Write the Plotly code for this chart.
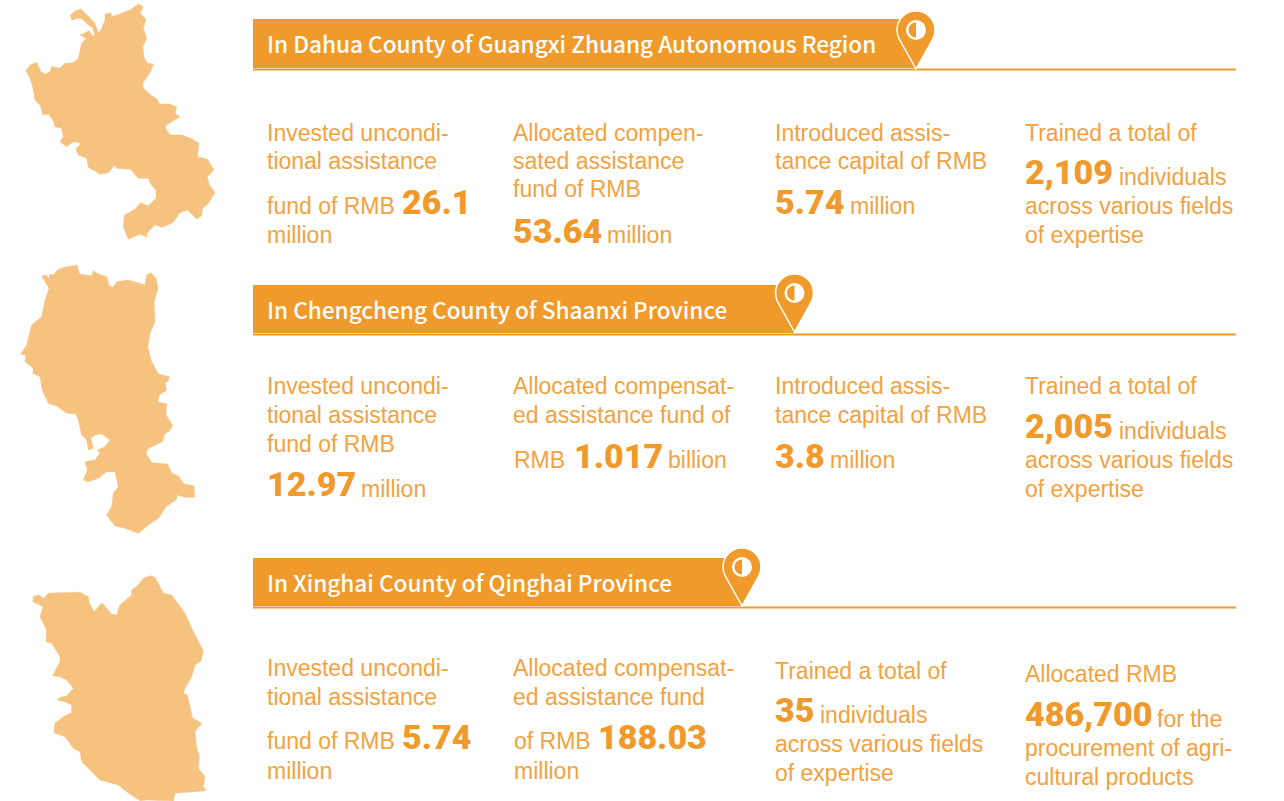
import math
import plotly.graph_objects as go

# Traced county outlines: (x, y) in zoom-crop units, offset given below
MAP_DAHUA = [(415,12),(430,20),(420,40),(438,58),(430,85),(440,115),(428,140),(432,170),(442,190),(460,192),(452,215),(428,250),(430,265),(452,285),(470,296),(478,312),(510,312),(530,322),(525,340),(540,350),(515,365),(495,378),(502,395),(512,405),(545,405),(572,415),(597,430),(592,470),(622,478),(642,510),(622,530),(628,555),(645,578),(625,610),(608,625),(604,648),(590,657),(578,645),(562,630),(540,638),(518,668),(488,682),(465,675),(440,700),(442,712),(420,702),(385,718),(370,680),(373,645),(405,628),(422,608),(445,618),(468,595),(468,570),(452,552),(445,535),(415,535),(392,508),(350,505),(345,495),(325,518),(300,522),(265,502),(260,475),(235,465),(228,448),(243,430),(220,425),(200,440),(180,425),(190,410),(185,385),(165,380),(160,362),(145,342),(128,345),(122,318),(105,300),(98,260),(90,235),(78,212),(90,195),(110,187),(122,215),(135,222),(150,215),(155,200),(180,205),(195,190),(220,188),(235,175),(245,130),(258,115),(240,105),(258,98),(268,92),(275,105),(285,108),(278,84),(262,72),(248,58),(232,55),(215,60),(212,45),(225,33),(243,27),(262,46),(278,62),(285,70),(295,100),(305,85),(315,60),(315,42),(332,38),(335,50),(365,40),(390,30)]
MAP_CHENGCHENG = [(125,48),(140,45),(145,58),(150,42),(160,45),(175,28),(200,20),(232,16),(238,42),(275,48),(280,32),(295,42),(320,50),(328,78),(340,82),(350,65),(385,60),(435,75),(440,45),(452,38),(468,55),(474,85),(462,125),(465,185),(450,220),(443,260),(455,305),(475,342),(508,350),(505,362),(495,370),(500,390),(478,405),(473,425),(500,432),(498,465),(518,495),(510,512),(495,520),(487,545),(445,565),(438,580),(455,608),(503,612),(515,640),(535,648),(552,672),(582,678),(584,712),(555,712),(532,705),(528,720),(500,738),(475,775),(445,795),(415,820),(375,805),(345,798),(320,765),(335,740),(340,700),(355,680),(345,635),(320,635),(295,655),(265,665),(250,660),(262,630),(255,605),(285,600),(300,580),(292,570),(315,560),(330,540),(305,522),(285,525),(272,535),(280,565),(265,570),(260,540),(245,525),(235,480),(228,462),(200,460),(170,438),(145,430),(140,418),(128,395),(120,350),(98,340),(100,325),(75,305),(78,285),(62,283),(80,255),(95,195),(125,170),(135,120),(147,85)]
MAP_XINGHAI = [(450,47),(465,52),(490,100),(515,105),(555,160),(580,215),(610,272),(603,303),(585,315),(575,350),(555,385),(550,400),(562,405),(570,440),(578,475),(605,490),(585,515),(590,560),(598,590),(595,625),(615,650),(610,680),(618,692),(580,695),(525,700),(520,723),(440,720),(420,722),(380,695),(355,675),(320,665),(300,660),(265,625),(245,605),(240,575),(220,565),(195,530),(162,518),(165,490),(190,470),(215,458),(215,435),(195,425),(172,420),(180,412),(200,408),(220,385),(200,360),(180,350),(158,347),(180,305),(180,290),(155,250),(138,245),(140,210),(135,200),(120,170),(130,140),(98,125),(100,110),(115,105),(132,115),(145,100),(180,98),(240,97),(265,110),(268,128),(282,155),(306,128),(335,163),(350,165),(360,135),(395,105),(395,90),(415,75),(430,55)]

TITLES = ["In Dahua County of Guangxi Zhuang Autonomous Region",
          "In Chengcheng County of Shaanxi Province",
          "In Xinghai County of Qinghai Province"]
TITLE_Y = [43, 309, 582]
BANNER_TOP = [19, 285, 558]
BANNER_BOTTOM = [68, 333, 606]
PIN_X = [916, 794.5, 742]
PIN_TIP = [69, 332, 606]

# Body lines: (x, y, text)
BODY = [
 (267,133,"Invested uncondi-"),(267,161,"tional assistance"),(267,206,"fund of RMB"),(267,235,"million"),
 (513,133,"Allocated compen-"),(513,161,"sated assistance"),(513,189,"fund of RMB"),(607,235,"million"),
 (775,133,"Introduced assis-"),(775,161,"tance capital of RMB"),(850,206,"million"),
 (1025,133,"Trained a total of"),(1119,177,"individuals"),(1025,206,"across various fields"),(1025,235,"of expertise"),
 (267,386,"Invested uncondi-"),(267,415,"tional assistance"),(267,444,"fund of RMB"),(361,489,"million"),
 (513,386,"Allocated compensat-"),(513,415,"ed assistance fund of"),(514,460,"RMB"),(668,460,"billion"),
 (775,386,"Introduced assis-"),(775,415,"tance capital of RMB"),(830,460,"million"),
 (1025,386,"Trained a total of"),(1119,431,"individuals"),(1025,460,"across various fields"),(1025,489,"of expertise"),
 (267,668,"Invested uncondi-"),(267,697,"tional assistance"),(267,741,"fund of RMB"),(267,771,"million"),
 (513,668,"Allocated compensat-"),(513,697,"ed assistance fund"),(514,741,"of RMB"),(514,771,"million"),
 (775,671,"Trained a total of"),(820,715,"individuals"),(775,744,"across various fields"),(775,773,"of expertise"),
 (1025,674,"Allocated RMB"),(1157,719,"for the"),(1025,748,"procurement of agri-"),(1025,777,"cultural products"),
]
# Highlighted figures: (x, y, text)
FIGURES = [
 (402,202,"26.1"),(513,231,"53.64"),(775,202,"5.74"),(1025,172,"2,109"),
 (267,484,"12.97"),(574,456,"1.017"),(775,456,"3.8"),(1025,426,"2,005"),
 (402,737,"5.74"),(598,737,"188.03"),(775,710,"35"),(1025,714,"486,700"),
]

ORANGE = "#F09A2C"
TEXT_ORANGE = "#F2A23F"
MAP_COLOR = "#F5C27F"

fig = go.Figure()

def add_map(points, dx, dy):
    xs = [p[0] / 3 + dx for p in points]
    ys = [p[1] / 3 + dy for p in points]
    fig.add_trace(go.Scatter(x=xs + xs[:1], y=ys + ys[:1], mode="lines", fill="toself",
                             fillcolor=MAP_COLOR, line=dict(color=MAP_COLOR, width=0.5),
                             hoverinfo="skip", showlegend=False))

add_map(MAP_DAHUA, 0, 0)
add_map(MAP_CHENGCHENG, 0, 260)
add_map(MAP_XINGHAI, 0, 560)

def pin_path(c, tip, R):
    d = 39
    cy = tip - d
    s = R / d
    co = math.sqrt(1 - s * s)
    tx, ty = R * co, R * s          # tangent point relative to centre
    k1 = 4 / 3 * math.tan(math.asin(s) / 4) * R
    k = 0.5523 * R
    return (f"M{c},{tip} L{c-tx:.2f},{cy+ty:.2f} "
            f"C{c-tx-k1*s:.2f},{cy+ty-k1*co:.2f} {c-R},{cy+k1:.2f} {c-R},{cy} "
            f"C{c-R},{cy-k:.2f} {c-k:.2f},{cy-R} {c},{cy-R} "
            f"C{c+k:.2f},{cy-R} {c+R},{cy-k:.2f} {c+R},{cy} "
            f"C{c+R},{cy+k1:.2f} {c+tx+k1*s:.2f},{cy+ty-k1*co:.2f} {c+tx:.2f},{cy+ty:.2f} Z")

shapes = []
annotations = []
R = 19
for i, title in enumerate(TITLES):
    top, bot, px, tip = BANNER_TOP[i], BANNER_BOTTOM[i], PIN_X[i], PIN_TIP[i]
    shapes.append(dict(type="path", path=f"M253,{top} L{px-15},{top} L{px},{bot} L253,{bot} Z",
                       fillcolor=ORANGE, line=dict(width=0), xref="x", yref="y"))
    shapes.append(dict(type="line", x0=253, x1=1236, y0=bot + 1.5, y1=bot + 1.5,
                       line=dict(color=ORANGE, width=2), xref="x", yref="y"))
    cy = tip - 39
    c = px
    shapes.append(dict(type="path", path=pin_path(c, tip, R), fillcolor=ORANGE,
                       line=dict(color="#FFFFFF", width=1.5), xref="x", yref="y"))
    r = 10
    shapes.append(dict(type="circle", x0=c - r, x1=c + r, y0=cy - r, y1=cy + r, fillcolor="#FFFFFF",
                       line=dict(width=0), xref="x", yref="y"))
    r2 = 7.5
    k2 = 0.5523 * r2
    shapes.append(dict(type="path",
                       path=f"M{c},{cy-r2} C{c-k2},{cy-r2} {c-r2},{cy-k2} {c-r2},{cy} "
                            f"C{c-r2},{cy+k2} {c-k2},{cy+r2} {c},{cy+r2} Z",
                       fillcolor=ORANGE, line=dict(width=0), xref="x", yref="y"))
    annotations.append(dict(x=267, y=TITLE_Y[i], text=title, xref="x", yref="y", xanchor="left",
                            yanchor="middle", showarrow=False, xshift=-2,
                            font=dict(family="Noto Sans CJK SC", size=22.6, color="#FFFFFF", weight=500)))

for x, y, t in BODY:
    annotations.append(dict(x=x, y=y, text=t, xref="x", yref="y", xanchor="left", yanchor="middle",
                            showarrow=False, xshift=-2,
                            font=dict(family="Liberation Sans", size=23, color=TEXT_ORANGE)))
for x, y, t in FIGURES:
    annotations.append(dict(x=x, y=y, text=t, xref="x", yref="y", xanchor="left", yanchor="middle",
                            showarrow=False, xshift=-2,
                            font=dict(family="Roboto", size=34, color=ORANGE, weight=900)))

fig.update_layout(
    width=1284, height=801, margin=dict(l=0, r=0, t=0, b=0),
    paper_bgcolor="#FFFFFF", plot_bgcolor="#FFFFFF", showlegend=False,
    xaxis=dict(range=[0, 1284], visible=False, fixedrange=True),
    yaxis=dict(range=[801, 0], visible=False, fixedrange=True),
    shapes=shapes, annotations=annotations,
)
fig.write_html("out.html", config={"displayModeBar": False},
               post_script="document.body.style.margin='0';document.body.style.overflow='hidden';")
